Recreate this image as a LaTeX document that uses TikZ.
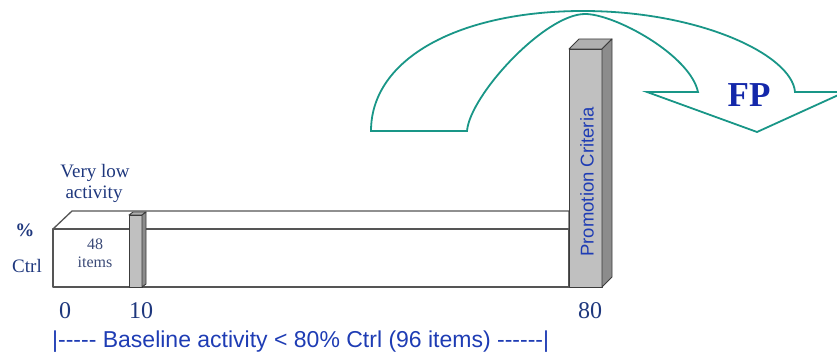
\documentclass[tikz,border=0pt]{standalone}
\usepackage{fontspec}
\setmainfont{Liberation Serif}
\newfontfamily\arialf{Liberation Sans}
\definecolor{navy}{RGB}{30,55,125}
\definecolor{slate}{RGB}{60,75,120}
\definecolor{bluesans}{RGB}{30,60,180}
\definecolor{fpblue}{RGB}{20,40,170}
\definecolor{teal}{RGB}{25,150,135}
\definecolor{slabline}{RGB}{85,85,85}
\definecolor{barfront}{RGB}{192,192,192}
\definecolor{bartop}{RGB}{175,175,175}
\definecolor{barside}{RGB}{140,140,140}
\definecolor{barline}{RGB}{60,60,60}
\begin{document}
\begin{tikzpicture}[x=1pt,y=-1pt,
  slabface/.style={draw=slabline,line width=1.3pt,fill=white,line join=round},
  barfr/.style={draw=barline,line width=0.9pt,fill=barfront,line join=round},
  bartp/.style={draw=barline,line width=0.9pt,fill=bartop,line join=round},
  barsd/.style={draw=barline,line width=0.9pt,fill=barside,line join=round},
  arrowline/.style={draw=teal,line width=1.8pt,line join=miter},
  navytxt/.style={text=navy,inner sep=0pt,font=\fontsize{19}{21}\selectfont},
  numtxt/.style={text=navy,inner sep=0pt,anchor=base,font=\fontsize{24}{26}\selectfont},
  itemtxt/.style={text=slate,inner sep=0pt,anchor=base,font=\fontsize{16}{18}\selectfont},
]
\useasboundingbox (0,0) rectangle (837,352);
% curved arrow
\draw[arrowline] (371,131) .. controls (371,58) and (460,11) .. (583,11)
  .. controls (700,11) and (792,55) .. (795,92)
  -- (845,92) -- (757,132) -- (647,92) -- (698,92)
  .. controls (690,55) and (615,14) .. (585,14)
  .. controls (545,14) and (470,95) .. (467,131)
  -- cycle;
\node[text=fpblue,inner sep=0pt,font=\fontsize{35}{37}\selectfont\bfseries] (fp) at (749,95) {FP};
% slab
\path[slabface] (53,229) -- (72,211) -- (569,211) -- (569,229) -- cycle;
\path[slabface] (53,229) rectangle (569,287);
% small bar
\path[barfr] (129,215) rectangle (142,287);
\path[bartp] (129,215) -- (133,212) -- (146,212) -- (142,215) -- cycle;
\path[barsd] (142,215) -- (146,212) -- (146,284) -- (142,287) -- cycle;
% promotion bar
\path[barfr] (569,49) rectangle (602,287);
\path[bartp] (569,49) -- (579,39) -- (612,39) -- (602,49) -- cycle;
\path[barsd] (602,49) -- (612,39) -- (612,277) -- (602,287) -- cycle;
\node[rotate=90,text=bluesans,inner sep=0pt,font=\arialf\fontsize{18.5}{20}\selectfont] (pc) at (587,182) {Promotion Criteria};
% labels
\node[navytxt,anchor=base] (vl1) at (95,178) {Very low};
\node[navytxt,anchor=base] (vl2) at (94,199) {activity};
\node[navytxt,anchor=base] (pct) at (25,237) {\textbf{\%}};
\node[navytxt,anchor=base] (ctrl) at (27,273) {Ctrl};
\node[itemtxt] (n48) at (95,250) {48};
\node[itemtxt] (items) at (95,268) {items};
\node[numtxt] (z0) at (65,318) {0};
\node[numtxt] (z10) at (141,318) {10};
\node[numtxt] (z80) at (590,318) {80};
\node[text=bluesans,inner sep=0pt,anchor=base west,font=\arialf\fontsize{23}{25}\selectfont] (base) at (52,347) {|----- Baseline activity < 80\% Ctrl (96 items) ------|};
\end{tikzpicture}
\end{document}
